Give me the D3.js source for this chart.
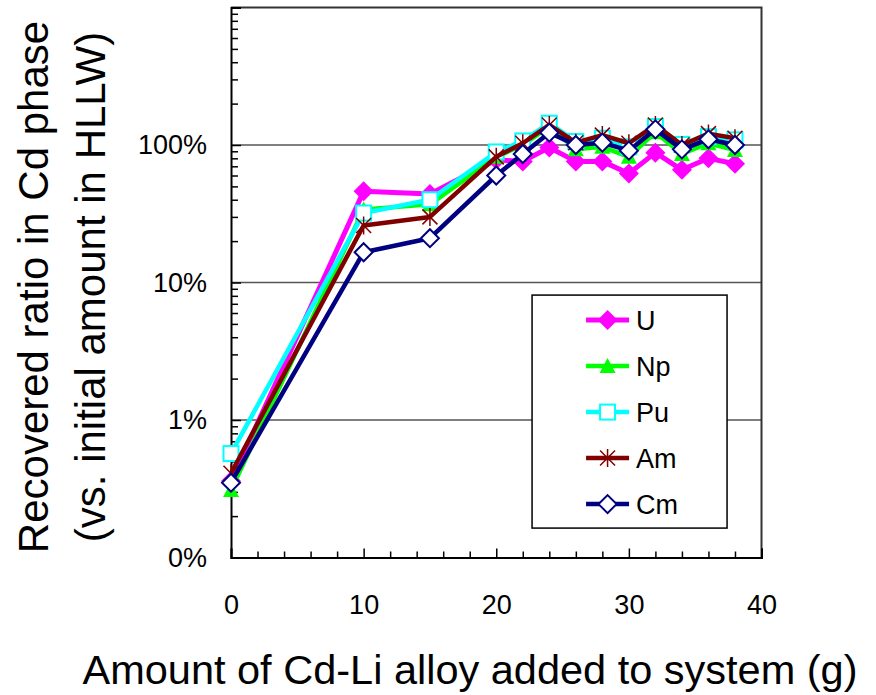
<!DOCTYPE html>
<html>
<head>
<meta charset="utf-8">
<script src="https://cdn.jsdelivr.net/npm/d3@7"></script>
<style>
body { margin: 0; background: #fff; }
text { font-family: "Liberation Sans", Arial, sans-serif; fill: #000; }
</style>
</head>
<body>
<svg id="drawing_region"></svg>
<script>
// amount of Cd-Li alloy added (g)
const alloy = [0, 10, 15, 20, 22, 24, 26, 28, 30, 32, 34, 36, 38];
// recovered ratio (%)
const U  = [0.36, 46, 44, 78, 76, 96, 76, 76, 62, 88, 66, 80, 73];
const Np = [0.31, 34, 37, 82, 100, 136, 93, 97, 82, 124, 86, 103, 92];
const Pu = [0.57, 32, 40, 89, 107, 144, 106, 112, 97, 136, 101, 115, 109];
const Am = [0.41, 26, 30, 82, 103, 140, 104, 118, 103, 140, 100, 121, 112];
const Cm = [0.35, 16.6, 21, 60, 86, 123, 100, 104, 91, 130, 93, 110, 100];

const seriesNames = ["U", "Np", "Pu", "Am", "Cm"];
const xTicks = [0, 10, 20, 30, 40];
const yTicks = [0.1, 1, 10, 100];
const yTickLabels = ["0%", "1%", "10%", "100%"];

class LogLineChart {
    constructor(config, series) {
        this.config = config;
        this.series = series;
        this.init();
    }

    init() {
        let self = this;
        const c = self.config;
        self.svg = d3.select(c.parent)
            .attr('width', c.width)
            .attr('height', c.height);
        self.chart = self.svg.append('g')
            .attr('transform', `translate(${c.margin.left},${c.margin.top})`);
        self.inner_width = c.width - c.margin.left - c.margin.right;
        self.inner_height = c.height - c.margin.top - c.margin.bottom;

        self.xscale = d3.scaleLinear()
            .domain([0, 40])
            .range([0, self.inner_width]);
        self.yscale = d3.scaleLog()
            .domain([0.1, 1000])
            .range([self.inner_height, 0]);

        self.line = d3.line()
            .x(d => self.xscale(d.x))
            .y(d => self.yscale(d.y));

        self.styles = {
            U:  { color: '#ff00ff', width: 5,   marker: 'diamondFill' },
            Np: { color: '#00ff00', width: 4.5, marker: 'triangle' },
            Pu: { color: '#00ffff', width: 4.5, marker: 'square' },
            Am: { color: '#800000', width: 4.5, marker: 'star' },
            Cm: { color: '#000080', width: 4.5, marker: 'diamond' }
        };
    }

    marker(g, type, color) {
        if (type == 'diamondFill') {
            g.append('path').attr('d', 'M0,-10L10,0L0,10L-10,0Z').attr('fill', color);
        } else if (type == 'triangle') {
            g.append('path').attr('d', 'M0,-8L8,7L-8,7Z').attr('fill', color);
        } else if (type == 'square') {
            g.append('rect').attr('x', -7.5).attr('y', -7.5).attr('width', 15).attr('height', 15)
                .attr('fill', '#fff').attr('stroke', color).attr('stroke-width', 2);
        } else if (type == 'star') {
            g.append('path').attr('d', 'M-7.5,-7.5L7.5,7.5M-7.5,7.5L7.5,-7.5M0,-9L0,9')
                .attr('stroke', color).attr('stroke-width', 1.5).attr('fill', 'none');
        } else {
            g.append('path').attr('d', 'M0,-9L9,0L0,9L-9,0Z')
                .attr('fill', '#fff').attr('stroke', color).attr('stroke-width', 2);
        }
    }

    render() {
        let self = this;
        const w = self.inner_width, h = self.inner_height;

        // grid lines
        self.chart.selectAll('.grid')
            .data([1, 10, 100])
            .enter()
            .append('line')
            .attr('x1', 0).attr('x2', w)
            .attr('y1', d => self.yscale(d)).attr('y2', d => self.yscale(d))
            .attr('stroke', '#555').attr('stroke-width', 1.5);

        // plot border (top, right)
        self.chart.append('path')
            .attr('d', `M0,0H${w}V${h}`)
            .attr('fill', 'none').attr('stroke', '#333').attr('stroke-width', 2);

        // y axis
        const yminor = [];
        [0.1, 1, 10, 100].forEach(b => { for (let k = 2; k <= 9; k++) yminor.push(b * k); });
        self.chart.append('g')
            .call(d3.axisLeft(self.yscale).tickValues(yminor).tickSize(-7).tickFormat(''))
            .call(g => g.select('.domain').remove())
            .selectAll('line').attr('stroke-width', 1.5);
        const yaxis = self.chart.append('g')
            .call(d3.axisLeft(self.yscale)
                .tickValues(yTicks.concat([1000]))
                .tickSize(-10).tickPadding(24)
                .tickFormat((d, i) => yTickLabels[i] || ''));
        yaxis.select('.domain').attr('stroke-width', 2);
        yaxis.selectAll('line').attr('stroke-width', 1.5);
        yaxis.selectAll('text').style('font-size', '27px');

        // x axis
        const xminor = d3.range(2, 40, 2).filter(d => d % 10 != 0);
        self.chart.append('g')
            .attr('transform', `translate(0,${h})`)
            .call(d3.axisBottom(self.xscale).tickValues(xminor).tickSize(-6).tickFormat(''))
            .call(g => g.select('.domain').remove())
            .selectAll('line').attr('stroke-width', 1.5);
        const xaxis = self.chart.append('g')
            .attr('transform', `translate(0,${h})`)
            .call(d3.axisBottom(self.xscale).tickValues(xTicks).tickSize(-9).tickPadding(37));
        xaxis.select('.domain').attr('stroke-width', 2);
        xaxis.selectAll('line').attr('stroke-width', 1.5);
        xaxis.selectAll('text').style('font-size', '27px');

        // series
        self.series.forEach(s => {
            const st = self.styles[s.name];
            const pts = s.values.map((v, i) => ({ x: alloy[i], y: v }));
            const g = self.chart.append('g');
            g.append('path')
                .datum(pts)
                .attr('d', self.line)
                .attr('fill', 'none')
                .attr('stroke', st.color)
                .attr('stroke-width', st.width)
                .attr('stroke-linejoin', 'round');
            g.selectAll('.pt')
                .data(pts)
                .enter()
                .append('g')
                .attr('transform', d => `translate(${self.xscale(d.x)},${self.yscale(d.y)})`)
                .each(function() { self.marker(d3.select(this), st.marker, st.color); });
        });

        // legend
        const lx = self.xscale(22.7), ly = self.yscale(8.1);
        const legend = self.chart.append('g').attr('transform', `translate(${lx},${ly})`);
        legend.append('rect')
            .attr('width', 195).attr('height', 233)
            .attr('fill', '#fff').attr('stroke', '#000').attr('stroke-width', 1.5);
        self.series.forEach((s, i) => {
            const st = self.styles[s.name];
            const row = legend.append('g').attr('transform', `translate(0,${25 + i * 46})`);
            row.append('line')
                .attr('x1', 54).attr('x2', 97)
                .attr('stroke', st.color).attr('stroke-width', st.width);
            self.marker(row.append('g').attr('transform', 'translate(75.5,0)'), st.marker, st.color);
            row.append('text')
                .attr('x', 104).attr('y', 10)
                .style('font-size', '27px')
                .text(s.name);
        });

        // axis titles
        self.svg.append('text')
            .attr('x', 470).attr('y', 684)
            .attr('text-anchor', 'middle')
            .style('font-size', '41.5px')
            .text('Amount of Cd-Li alloy added to system (g)');
        self.svg.append('text')
            .attr('transform', 'translate(48,287) rotate(-90)')
            .attr('text-anchor', 'middle')
            .style('font-size', '42px')
            .text('Recovered ratio in Cd phase');
        self.svg.append('text')
            .attr('transform', 'translate(105,287) rotate(-90)')
            .attr('text-anchor', 'middle')
            .style('font-size', '42px')
            .text('(vs. initial amount in HLLW)');
    }
}

const config = {
    parent: '#drawing_region',
    width: 876,
    height: 695,
    margin: { top: 7.5, right: 114.5, bottom: 137.5, left: 231 }
};

const chart = new LogLineChart(config, [
    { name: "U", values: U },
    { name: "Np", values: Np },
    { name: "Pu", values: Pu },
    { name: "Am", values: Am },
    { name: "Cm", values: Cm }
]);
chart.render();
</script>
</body>
</html>
